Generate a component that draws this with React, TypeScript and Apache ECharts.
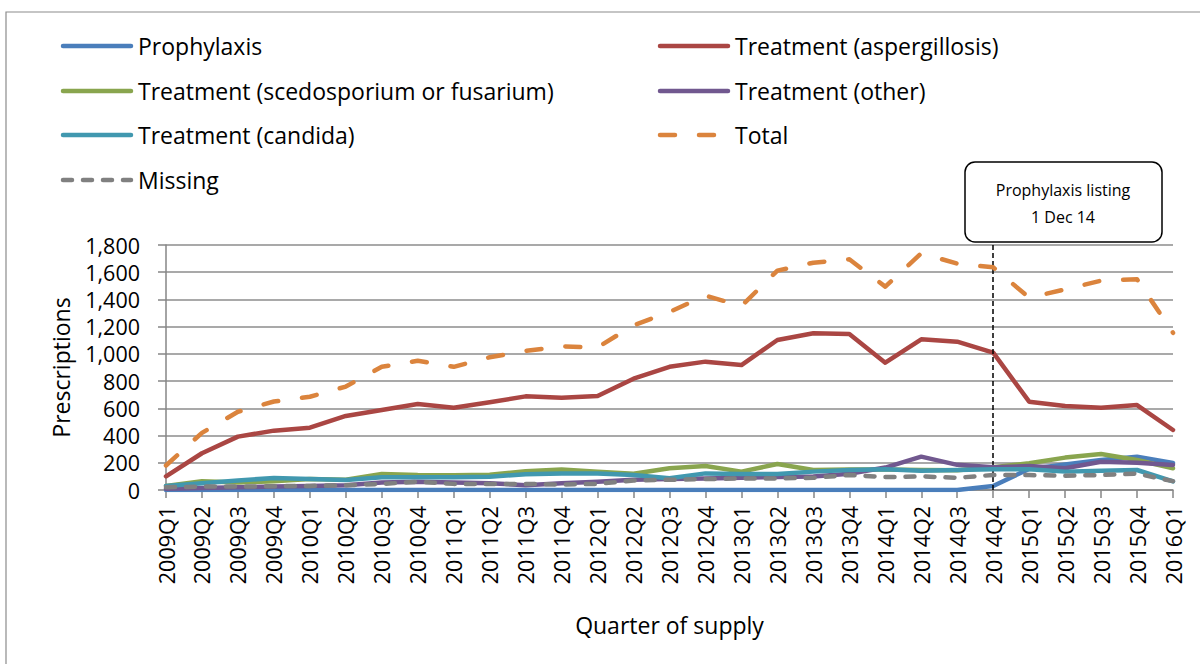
import React, { useEffect, useRef } from "react";
import * as echarts from "echarts";

const quarters = [
  "2009Q1", "2009Q2", "2009Q3", "2009Q4", "2010Q1", "2010Q2", "2010Q3", "2010Q4",
  "2011Q1", "2011Q2", "2011Q3", "2011Q4", "2012Q1", "2012Q2", "2012Q3", "2012Q4",
  "2013Q1", "2013Q2", "2013Q3", "2013Q4", "2014Q1", "2014Q2", "2014Q3", "2014Q4",
  "2015Q1", "2015Q2", "2015Q3", "2015Q4", "2016Q1",
];

const prophylaxis = [0, 0, 0, 0, 0, 0, 0, 0, 0, 0, 0, 0, 0, 0, 0, 0, 0, 0, 0, 0, 0, 0, 0, 30, 155, 188, 220, 245, 198];
const aspergillosis = [100, 270, 392, 436, 458, 544, 588, 632, 605, 644, 688, 678, 690, 818, 905, 943, 918, 1102, 1151, 1146, 935, 1107, 1090, 1009, 649, 617, 605, 624, 441];
const scedosporium = [30, 65, 55, 65, 80, 75, 118, 110, 108, 112, 137, 150, 135, 120, 160, 176, 135, 191, 147, 150, 150, 147, 145, 167, 196, 238, 265, 220, 160];
const other = [10, 15, 20, 25, 30, 35, 55, 60, 55, 50, 35, 50, 60, 75, 80, 85, 90, 95, 100, 120, 165, 245, 185, 167, 176, 160, 208, 200, 184];
const candida = [30, 50, 70, 88, 80, 73, 93, 93, 93, 98, 115, 122, 122, 110, 86, 122, 118, 118, 135, 147, 152, 142, 147, 152, 152, 135, 142, 147, 63];
const total = [180, 420, 575, 650, 685, 760, 905, 950, 905, 975, 1022, 1055, 1048, 1210, 1308, 1428, 1352, 1612, 1670, 1695, 1494, 1739, 1663, 1636, 1413, 1474, 1538, 1548, 1155];
const missing = [20, 25, 25, 28, 30, 35, 45, 60, 45, 45, 45, 40, 45, 70, 75, 80, 85, 85, 90, 110, 95, 100, 90, 110, 110, 105, 110, 120, 65];

const seriesNames = [
  "Prophylaxis",
  "Treatment (aspergillosis)",
  "Treatment (scedosporium or fusarium)",
  "Treatment (other)",
  "Treatment (candida)",
  "Total",
  "Missing",
];
const colors = ["#4A7EBB", "#AA4643", "#89A54E", "#71588F", "#4198AF", "#DB843D", "#808080"];
const dashes: (number[] | null)[] = [null, null, null, null, null, [15, 24], [9, 11]];
const seriesData = [prophylaxis, aspergillosis, scedosporium, other, candida, total, missing];

const listingQuarter = "2014Q4";
const noteLines = ["Prophylaxis listing", "1 Dec 14"];

const FONT = "'Open Sans'";

export default function App() {
  const ref = useRef<HTMLDivElement>(null);
  useEffect(() => {
    if (!ref.current) return;
    const chart = echarts.init(ref.current, null, { renderer: "svg" });

    const legendGraphics: any[] = [];
    const legendPos = [
      [61, 46], [658, 46],
      [61, 91], [658, 91],
      [61, 135], [658, 135],
      [61, 180],
    ];
    seriesNames.forEach((name, i) => {
      const [x, y] = legendPos[i];
      legendGraphics.push({
        type: "line",
        shape: { x1: x + 2, y1: y, x2: x + 70, y2: y },
        style: {
          stroke: colors[i],
          lineWidth: 4.5,
          lineCap: "round",
          lineDash: i === 5 ? [15, 24] : i === 6 ? [9, 11] : null,
        },
      });
      legendGraphics.push({
        type: "text",
        x: x + 77,
        y: y,
        style: {
          text: name,
          font: `23px ${FONT}`,
          fill: "#000",
          verticalAlign: "middle",
        },
      });
    });

    const option: any = {
      animation: false,
      backgroundColor: "#fff",
      grid: { left: 166, right: 27, top: 245, bottom: 174, containLabel: false },
      xAxis: {
        type: "category",
        data: quarters,
        boundaryGap: false,
        name: "Quarter of supply",
        nameLocation: "middle",
        nameGap: 123,
        nameTextStyle: { fontSize: 23, color: "#000", fontFamily: FONT },
        axisLine: { lineStyle: { color: "#868686", width: 1.5 } },
        axisTick: { show: true, length: 8, lineStyle: { color: "#868686", width: 1.5 } },
        axisLabel: {
          rotate: 90,
          interval: 0,
          margin: 16,
          fontSize: 21.5,
          color: "#000",
          fontFamily: FONT,
        },
        splitLine: { show: false },
      },
      yAxis: {
        type: "value",
        min: 0,
        max: 1800,
        interval: 200,
        name: "Prescriptions",
        nameLocation: "middle",
        nameGap: 94,
        nameTextStyle: { fontSize: 23, color: "#000", fontFamily: FONT },
        axisLine: { show: true, lineStyle: { color: "#868686", width: 1.5 } },
        axisTick: { show: true, length: 8, lineStyle: { color: "#868686", width: 1.5 } },
        axisLabel: {
          margin: 26,
          fontSize: 21.5,
          color: "#000",
          fontFamily: FONT,
          formatter: (v: number) => v.toLocaleString("en-US"),
        },
        splitLine: { lineStyle: { color: "#8C8C8C", width: 1.5 } },
      },
      series: seriesNames.map((name, i) => ({
        name,
        type: "line",
        data: seriesData[i],
        showSymbol: false,
        symbol: "none",
        smooth: false,
        z: 2 + i,
        lineStyle: {
          color: colors[i],
          width: 4.5,
          cap: "round",
          join: "round",
          type: dashes[i] ? dashes[i] : "solid",
        },
        markLine:
          i === 0
            ? {
                silent: true,
                symbol: "none",
                label: { show: false },
                lineStyle: { color: "#000", type: [5, 3], width: 1.5 },
                data: [{ xAxis: listingQuarter }],
              }
            : undefined,
      })),
      graphic: [
        {
          type: "rect",
          shape: { x: 6, y: 12, width: 1300, height: 800 },
          style: { fill: "none", stroke: "#8C8C8C", lineWidth: 1.2 },
          z: 0,
        },
        ...legendGraphics,
        {
          type: "rect",
          shape: { x: 965, y: 162, width: 197, height: 80, r: 10 },
          style: { fill: "#fff", stroke: "#000", lineWidth: 1.5 },
          z: 10,
        },
        {
          type: "text",
          x: 1063,
          y: 190,
          z: 11,
          style: {
            text: noteLines[0],
            font: `16px ${FONT}`,
            fill: "#000",
            align: "center",
            verticalAlign: "middle",
          },
        },
        {
          type: "text",
          x: 1063,
          y: 217,
          z: 11,
          style: {
            text: noteLines[1],
            font: `16px ${FONT}`,
            fill: "#000",
            align: "center",
            verticalAlign: "middle",
          },
        },
      ],
    };
    chart.setOption(option);
    return () => chart.dispose();
  }, []);
  return (
    <div
      ref={ref}
      style={{ position: "fixed", left: 0, top: 0, width: 1200, height: 664, background: "#fff" }}
    />
  );
}
